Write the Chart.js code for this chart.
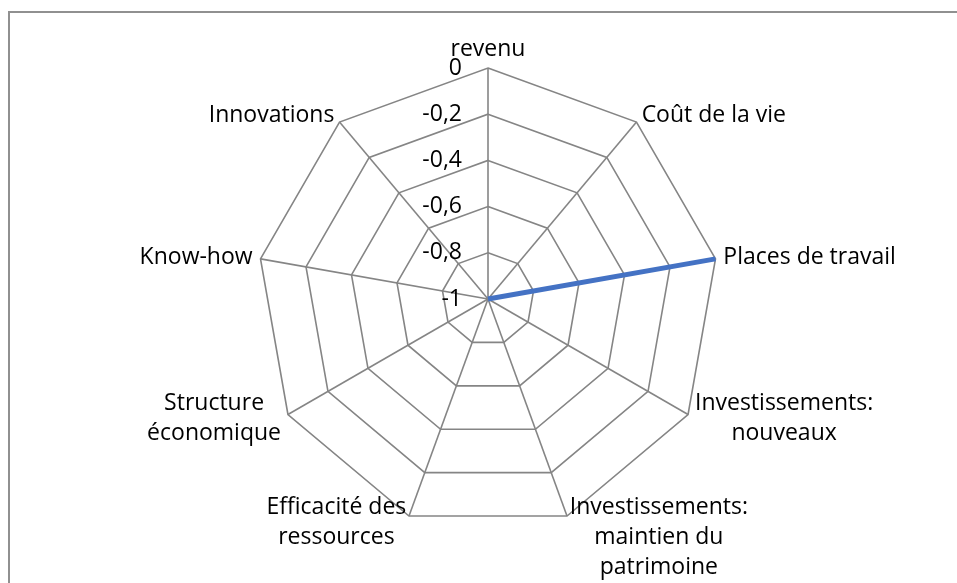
<!DOCTYPE html>
<html>
<head>
<meta charset="utf-8">
<script src="https://cdn.jsdelivr.net/npm/chart.js@4.4.1/dist/chart.umd.min.js"></script>
<style>
  html, body { margin: 0; padding: 0; background: #fff; }
  body { width: 957px; height: 583px; position: relative; overflow: hidden; }
  #frame { position: absolute; left: 8px; top: 11px; width: 1000px; height: 700px; border: 2px solid #909090; }
  #wrap { position: absolute; left: 0; top: 0; width: 957px; height: 583px; }
</style>
</head>
<body>
<div id="frame"></div>
<div id="wrap"><canvas id="radarChart"></canvas></div>
<script>
// categories (axes of the radar)
const categories = [
    "revenu",
    "Coût de la vie",
    "Places de travail",
    ["Investissements:", "nouveaux"],
    ["Investissements:", "maintien du", "patrimoine"],
    ["Efficacité des", "ressources"],
    ["Structure", "économique"],
    "Know-how",
    "Innovations"
];
// series values
const values = [-1, -1, 0, -1, -1, -1, -1, -1, -1];
// scale
const scaleMin = -1;
const scaleMax = 0;
const scaleStep = 0.2;

const labelFont = "Open Sans";
const labelSize = 23;
const lineH = 30;

const fmt = v => {
    const r = Math.round(v * 10) / 10;
    if (r === 0) return "0";
    if (r === -1) return "-1";
    return r.toFixed(1).replace(".", ",");
};

// tick labels left of the axis, point labels next to each spoke (lines centred)
const textPlugin = {
    id: "textPlugin",
    afterDraw(chart) {
        const s = chart.scales.r;
        const ctx = chart.ctx;
        ctx.save();
        ctx.font = labelSize + "px '" + labelFont + "'";
        ctx.fillStyle = "#000";
        ctx.textAlign = "right";
        ctx.textBaseline = "middle";
        s.ticks.forEach(t => {
            const y = s.yCenter - s.getDistanceFromCenterForValue(t.value);
            ctx.fillText(fmt(t.value), s.xCenter - 26, y);
        });
        ctx.textAlign = "center";
        categories.forEach((c, i) => {
            const lines = Array.isArray(c) ? c : [c];
            const w = Math.max(...lines.map(l => ctx.measureText(l).width));
            const h = lines.length * lineH;
            const p = s.getPointPosition(i, s.drawingArea + 8);
            const ang = s.getIndexAngle(i);
            const sn = Math.sin(ang), cs = Math.cos(ang);
            let cx, top;
            if (Math.abs(sn) < 0.01) cx = p.x;
            else if (sn > 0) cx = p.x + w / 2;
            else cx = p.x - w / 2;
            if (cs > 0.99) top = p.y - h + 4;
            else if (cs < -0.9) top = p.y - 31;
            else top = p.y - h / 2;
            lines.forEach((ln, k) => ctx.fillText(ln, cx, top + k * lineH + lineH / 2));
        });
        ctx.restore();
    }
};

new Chart(document.getElementById("radarChart"), {
    type: "radar",
    data: {
        labels: categories,
        datasets: [{
            data: values,
            borderColor: "#4472C4",
            backgroundColor: "transparent",
            borderWidth: 5,
            pointRadius: 0,
            fill: false
        }]
    },
    options: {
        responsive: true,
        maintainAspectRatio: false,
        animation: false,
        layout: { padding: { left: 257, right: 238, top: 68, bottom: 53 } },
        plugins: {
            legend: { display: false },
            tooltip: { enabled: false }
        },
        scales: {
            r: {
                min: scaleMin,
                max: scaleMax,
                ticks: { stepSize: scaleStep, display: false },
                grid: { color: "#858585", lineWidth: 1.6 },
                angleLines: { color: "#858585", lineWidth: 1.6 },
                pointLabels: { display: false }
            }
        }
    },
    plugins: [textPlugin]
});
</script>
</body>
</html>
